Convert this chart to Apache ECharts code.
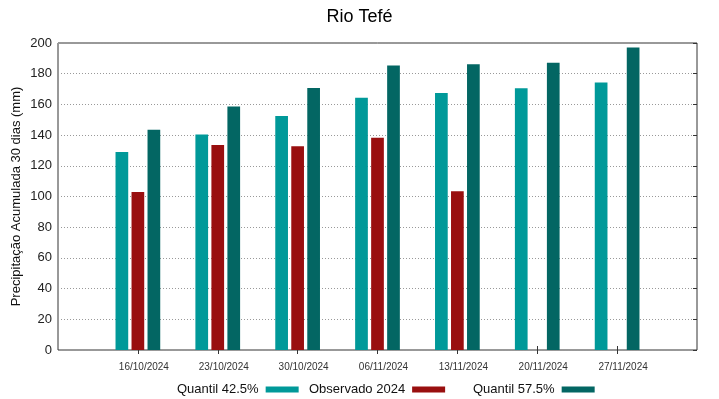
<!DOCTYPE html>
<html>
<head>
<meta charset="utf-8">
<script src="https://cdn.jsdelivr.net/npm/echarts@6/dist/echarts.min.js"></script>
<style>
  html, body { margin: 0; padding: 0; background: #fff; }
  #chart { width: 719px; height: 399px; }
</style>
</head>
<body>
<div id="chart"></div>
<script>
// dados
const datas = ['16/10/2024', '23/10/2024', '30/10/2024', '06/11/2024', '13/11/2024', '20/11/2024', '27/11/2024'];
const quantil425 = [129, 140.4, 152.5, 164.3, 167.4, 170.5, 174.2];
const observado2024 = [103, 133.6, 132.7, 138.3, 103.4, null, null];
const quantil575 = [143.5, 158.7, 170.7, 185.4, 186.1, 187.2, 197];
const yTicks = [0, 20, 40, 60, 80, 100, 120, 140, 160, 180, 200];

const FONT = '"Liberation Sans", Arial, sans-serif';

// eixo com uma posição vazia em cada ponta (como no gnuplot)
const eixoX = [''].concat(datas, ['']);
const pad = arr => [null].concat(arr, [null]);
const soDatas = i => i > 0 && i < eixoX.length - 1;

const cores = {
  q425: '#009999',
  obs: '#990f0f',
  q575: '#036663'
};

const chart = echarts.init(document.getElementById('chart'));

const legenda = (nome, left) => ({
  data: [nome],
  left: left,
  top: 383,
  padding: 0,
  align: 'right',
  itemWidth: 33,
  itemHeight: 6,
  icon: 'rect',
  textStyle: { fontFamily: FONT, fontSize: 13, color: '#111', padding: [0, 2, 0, 0] },
  selectedMode: false
});

const serie = (nome, valores, cor) => ({
  name: nome,
  type: 'bar',
  data: pad(valores),
  barWidth: 12.7,
  barGap: '26%',
  itemStyle: { color: cor },
  animation: false
});

chart.setOption({
  backgroundColor: '#fff',
  title: {
    text: 'Rio Tefé',
    left: 'center',
    top: 3,
    textStyle: { fontFamily: FONT, fontSize: 18, fontWeight: 'normal', color: '#000' }
  },
  legend: [
    legenda('Quantil 42.5%', 177),
    legenda('Observado 2024', 309),
    legenda('Quantil 57.5%', 473)
  ],
  grid: {
    left: 58, right: 22, top: 43, bottom: 49,
    show: true, borderColor: '#333', borderWidth: 1,
    containLabel: false
  },
  xAxis: [
    {
      type: 'category',
      data: eixoX,
      boundaryGap: false,
      axisLine: { show: false },
      axisTick: { show: true, inside: true, length: 4, interval: soDatas, lineStyle: { color: '#333' } },
      axisLabel: {
        fontFamily: FONT, fontSize: 10, color: '#333', margin: 12,
        padding: [0, 0, 0, 12], interval: 0
      },
      splitLine: { show: false }
    },
    {
      type: 'category',
      data: eixoX,
      boundaryGap: false,
      position: 'top',
      axisLine: { show: false },
      axisTick: { show: true, inside: true, length: 4, interval: soDatas, lineStyle: { color: '#333' } },
      axisLabel: { show: false },
      splitLine: { show: false }
    }
  ],
  yAxis: [
    {
      type: 'value',
      min: yTicks[0],
      max: yTicks[yTicks.length - 1],
      interval: 20,
      name: 'Precipitação Acumulada 30 dias (mm)',
      nameLocation: 'middle',
      nameGap: 35,
      nameMoveOverlap: false,
      nameTextStyle: { fontFamily: FONT, fontSize: 13, color: '#111' },
      axisLine: { show: false },
      axisTick: { show: false },
      axisLabel: { fontFamily: FONT, fontSize: 13, color: '#222', margin: 6 },
      splitLine: { show: true, lineStyle: { color: '#999', type: [1, 2], width: 1 } }
    },
    {
      type: 'value',
      min: yTicks[0],
      max: yTicks[yTicks.length - 1],
      interval: 20,
      position: 'right',
      axisLine: { show: false },
      axisTick: { show: true, inside: true, length: 4, lineStyle: { color: '#333' } },
      axisLabel: { show: false },
      splitLine: { show: false }
    }
  ],
  series: [
    serie('Quantil 42.5%', quantil425, cores.q425),
    serie('Observado 2024', observado2024, cores.obs),
    serie('Quantil 57.5%', quantil575, cores.q575)
  ]
});

window.addEventListener('resize', () => chart.resize());
</script>
</body>
</html>
